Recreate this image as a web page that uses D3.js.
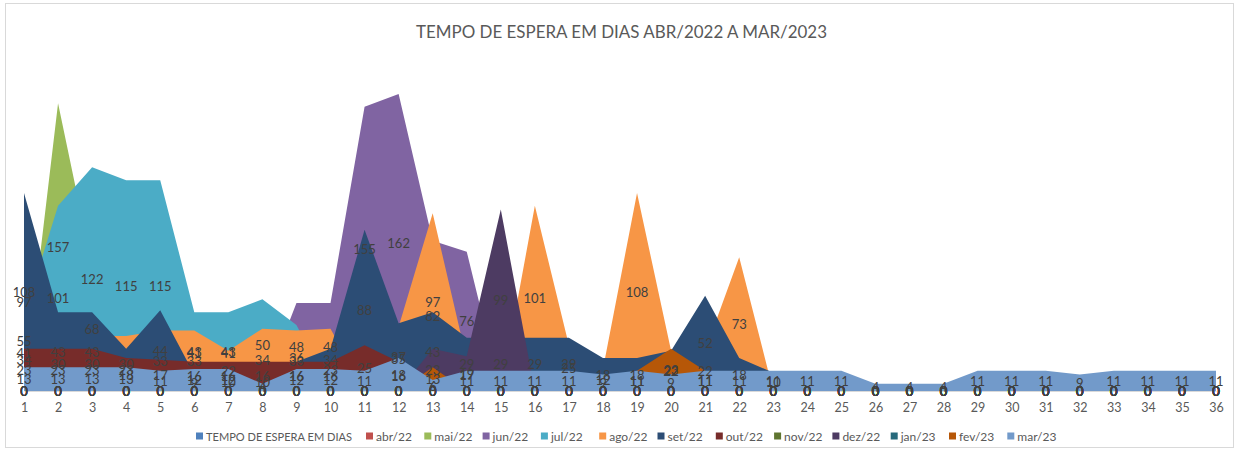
<!DOCTYPE html>
<html><head><meta charset="utf-8">
<script src="https://cdn.jsdelivr.net/npm/d3@7"></script>
<style>body{margin:0;background:#fff}</style>
</head><body>
<svg id="c" width="1240" height="452" xmlns="http://www.w3.org/2000/svg"></svg>
<script>
const title = "TEMPO DE ESPERA EM DIAS ABR/2022 A MAR/2023";
const categories = [1,2,3,4,5,6,7,8,9,10,11,12,13,14,15,16,17,18,19,20,21,22,23,24,25,26,27,28,29,30,31,32,33,34,35,36];
const seriesNames = ["TEMPO DE ESPERA EM DIAS","abr/22","mai/22","jun/22","jul/22","ago/22","set/22","out/22","nov/22","dez/22","jan/23","fev/23","mar/23"];

const tempo = [97,0,0,0,0,0,0,0,0,0,0,0,0,0,0,0,0,0,0,0,0,0,0,0,0,0,0,0,0,0,0,0,0,0,0,0];
const abr22 = [55,0,0,0,0,0,0,0,0,0,0,0,0,0,0,0,0,0,0,0,0,0,0,0,0,0,0,0,0,0,0,0,0,0,0,0];
const mai22 = [0,157,68,0,0,0,0,0,0,0,0,0,0,0,0,0,0,0,0,0,0,0,0,0,0,0,0,0,0,0,0,0,0,0,0,0];
const jun22 = [0,0,0,0,0,41,41,0,48,48,155,162,82,76,0,0,0,0,0,0,0,0,0,0,0,0,0,0,0,0,0,0,0,0,0,0];
const jul22 = [41,101,122,115,115,43,43,50,36,0,0,0,0,0,0,0,0,0,0,0,0,0,0,0,0,0,0,0,0,0,0,0,0,0,0,0];
const ago22 = [34,30,30,30,33,33,22,34,33,34,0,35,97,17,0,101,25,12,108,22,22,73,0,0,0,0,0,0,0,0,0,0,0,0,0,0];
const set22 = [108,43,43,23,44,9,10,10,16,23,88,37,43,29,29,29,29,18,18,22,52,18,10,0,0,0,0,0,0,0,0,0,0,0,0,0];
const out22 = [23,23,23,18,17,16,16,16,16,16,25,16,0,0,0,0,0,0,0,0,0,0,0,0,0,0,0,0,0,0,0,0,0,0,0,0];
const nov22 = [0,0,0,0,0,0,0,0,0,0,0,0,0,0,0,0,0,0,0,0,0,0,0,0,0,0,0,0,0,0,0,0,0,0,0,0];
const dez22 = [0,0,0,0,0,0,0,0,0,0,0,0,23,19,99,0,0,0,0,0,0,0,0,0,0,0,0,0,0,0,0,0,0,0,0,0];
const jan23 = [0,0,0,0,0,0,0,0,0,0,0,0,0,0,0,0,0,0,0,0,0,0,0,0,0,0,0,0,0,0,0,0,0,0,0,0];
const fev23 = [0,0,0,0,0,0,0,0,0,0,0,0,13,0,0,0,0,0,11,23,11,0,0,0,0,0,0,0,0,0,0,0,0,0,0,0];
const mar23 = [13,13,13,13,11,12,12,4,12,12,11,18,6,11,11,11,11,9,11,9,11,11,11,11,11,4,4,4,11,11,11,9,11,11,11,11];

const colors = ["#4F81BD","#C0504D","#9BBB59","#8064A2","#4BACC6","#F79646","#2C4D75","#772C2A","#5F7530","#4D3B62","#276A7C","#B65708","#729ACA"];
const seriesValues = [tempo,abr22,mai22,jun22,jul22,ago22,set22,out22,nov22,dez22,jan23,fev23,mar23];

const svg = d3.select("#c");
const FONT = "Lato, 'Open Sans', sans-serif";

svg.append("rect").attr("x",5.5).attr("y",3.5).attr("width",1228).attr("height",444)
  .attr("fill","#fff").attr("stroke","#D9D9D9").attr("stroke-width",1);

svg.append("text").attr("x",621.5).attr("y",38).attr("text-anchor","middle")
  .attr("font-family",FONT).attr("font-size",17).attr("fill","#595959")
  .attr("textLength",411).attr("lengthAdjust","spacingAndGlyphs").text(title);

const x = d3.scalePoint().domain(categories).range([24,1216]);
const y = d3.scaleLinear().domain([0,180]).range([391,61]);

const area = d3.area()
  .x((d,i)=>x(categories[i]))
  .y0(y(0))
  .y1(d=>y(d));

const g = svg.append("g");
seriesValues.forEach((vals,k)=>{
  g.append("path").attr("d",area(vals)).attr("fill",colors[k]);
});

const axis = d3.axisBottom(x).tickSize(0).tickSizeOuter(0).tickPadding(12);
const ax = svg.append("g").attr("transform","translate(0,391)").call(axis);
ax.select(".domain").attr("stroke","#D9D9D9");
ax.selectAll("text").attr("font-family",FONT).attr("font-size",12.5).attr("fill","#595959");

const lg = svg.append("g");
seriesValues.forEach((vals,k)=>{
  lg.selectAll(null).data(vals).enter().append("text")
    .attr("x",(d,i)=>x(categories[i]))
    .attr("y",d=>y(d/2))
    .attr("text-anchor","middle").attr("dominant-baseline","central")
    .attr("font-family",FONT).attr("font-size",13).attr("fill","#404040")
    .text(d=>d);
});

// legend
const legend = svg.append("g");
seriesNames.forEach((name,k)=>{
  const mx = k===0 ? 196 : 366 + (k-1)*58.3;
  legend.append("rect").attr("x",mx).attr("y",432.5).attr("width",7).attr("height",7).attr("fill",colors[k]);
  const t = legend.append("text").attr("x",mx+10).attr("y",436).attr("dominant-baseline","central")
    .attr("font-family",FONT).attr("font-size",12).attr("fill","#595959").text(name);
  if(k===0) t.attr("textLength",146).attr("lengthAdjust","spacingAndGlyphs");
});
</script>
</body></html>
